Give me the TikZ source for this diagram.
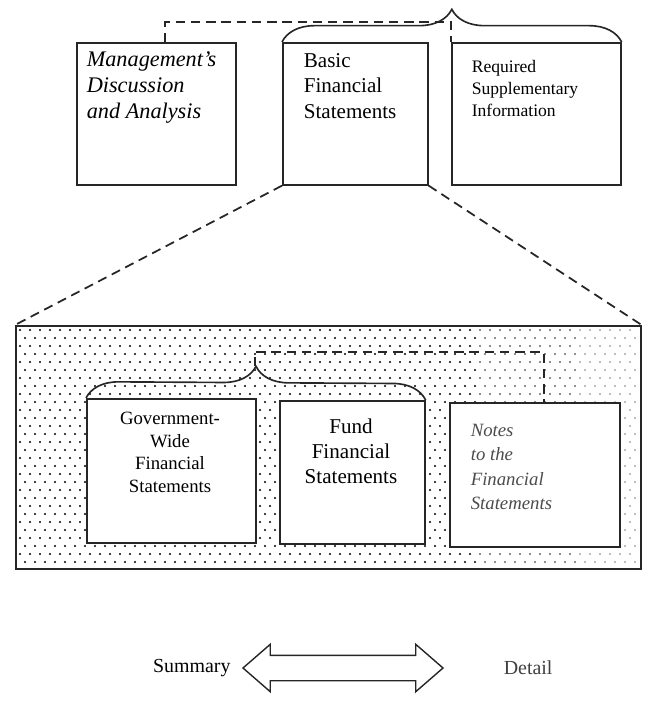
\documentclass[tikz,border=0pt]{standalone}
\usepackage{fontspec}
\setmainfont{Liberation Serif}
\usetikzlibrary{decorations.pathreplacing,shapes.arrows,positioning}

\def\px{0.03cm}

\begin{document}
\begin{tikzpicture}[x=\px,y=-\px,line width=1.4pt,draw=black!85]
    \tikzstyle{part}=[draw,rectangle,fill=white,inner sep=0pt,anchor=north west]
    \tikzstyle{linkline}=[dash pattern=on 8pt off 5pt,line width=1.5pt]
    \tikzstyle{group brace}=[decorate,decoration={brace,amplitude=0.98cm}]
    \tikzstyle{boxtext}=[anchor=north west,align=left,inner sep=0pt,font=\fontsize{18}{21.5}\selectfont]
    \tikzstyle{midtext}=[anchor=north,align=center,inner sep=0pt]

    \useasboundingbox (0,0) rectangle (646,711);

    % Draw the three parts of the report
    \node[part,minimum width=159*\px,minimum height=142*\px] (mda) at (76,42) {};
    \node[part,minimum width=145*\px,minimum height=142*\px] (basic) at (282,42) {};
    \node[part,minimum width=169*\px,minimum height=142*\px] (rsi) at (451,42) {};

    \node[boxtext,font=\fontsize{19}{22}\selectfont\itshape] (mda text) at (86,51)
        {Management’s\\Discussion\\and Analysis};
    \node[boxtext] (basic text) at (303,53) {Basic\\Financial\\Statements};
    \node[boxtext,font=\fontsize{15}{19}\selectfont] (rsi text) at (471,59)
        {Required\\Supplementary\\Information};

    % Brace and dashed link over the top row
    \draw[linkline] ([xshift=9*\px]mda.north) -- ++(0,-20) -| (rsi.north west);
    \draw[group brace] (basic.north west) -- (rsi.north east);

    % Draw the enlarged basic statements
    \node[draw,rectangle,inner sep=0pt,anchor=north west,
          minimum width=625*\px,minimum height=243*\px] (detail) at (15,325) {};
    \foreach \row in {0,...,29} {
        \pgfmathtruncatemacro\shift{mod(\row,2)*5}
        \foreach \col in {0,...,61} {
            \pgfmathtruncatemacro\shade{\col>55 ? 35 : (\col>45 ? 60 : 100)}
            \fill[black!\shade] (20+\col*10+\shift,330+\row*8) circle (1.05pt);
        }
    }

    \draw[linkline] (basic.south west) -- (detail.north west);
    \draw[linkline] (basic.south east) -- (detail.north east);

    \node[part,minimum width=169*\px,minimum height=144*\px] (gov) at (86,398) {};
    \node[part,minimum width=145*\px,minimum height=143*\px] (fund) at (279,400) {};
    \node[part,minimum width=170*\px,minimum height=144*\px] (notes) at (449,402) {};

    \node[midtext,font=\fontsize{16}{19.5}\selectfont] (gov text) at (170,411)
        {Government-\\Wide\\Financial\\Statements};
    \node[midtext,font=\fontsize{18}{21.5}\selectfont] (fund text) at (351,418)
        {Fund\\Financial\\Statements};
    \node[boxtext,font=\fontsize{16}{21}\selectfont\itshape,text=black!70] (notes text) at (470,423)
        {Notes\\to the\\Financial\\Statements};

    % Brace and dashed link inside
    \draw[group brace] (gov.north west) -- (fund.north east);
    \coordinate (inner tip) at (255,366);
    \draw[linkline] (inner tip) -- ++(0,-14) -| ([xshift=9*\px]notes.north);

    % Summary / detail scale
    \node[double arrow,draw,line width=1.2pt,inner xsep=0pt,inner ysep=12*\px,
          minimum height=200*\px,double arrow head extend=11*\px,
          double arrow tip angle=82] (scale) at (343,668) {};
    \node[left=0.2cm of scale,font=\fontsize{17}{20}\selectfont] (summary) {Summary};
    \node[right=1.65cm of scale,font=\fontsize{17}{20}\selectfont,text=black!75] (detailtext) {Detail};
\end{tikzpicture}
\end{document}
